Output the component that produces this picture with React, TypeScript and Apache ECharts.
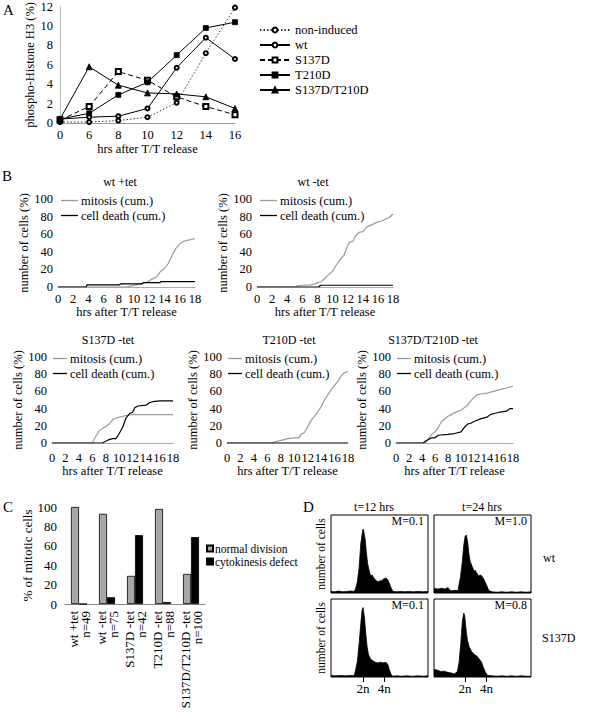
import React, { useEffect, useRef } from "react";
import * as echarts from "echarts";

const FONT = "'Liberation Serif', 'Times New Roman', serif";

// ---------- Panel A ----------
const hoursA = ["0", "6", "8", "10", "12", "14", "16"];
const nonInduced = [0.1, 0.1, 0.25, 0.6, 2.1, 7.2, 11.9];
const wtA = [0.4, 0.6, 0.7, 1.5, 5.7, 8.8, 6.6];
const s137dA = [0.3, 1.7, 5.3, 4.4, 2.7, 1.7, 0.85];
const t210dA = [0.4, 1.0, 2.9, 4.2, 7.0, 9.8, 10.4];
const dblA = [0.4, 5.8, 3.9, 3.1, 3.0, 2.7, 1.5];

// ---------- Panel B ([hours, % cells]) ----------
const wtPlusMitosis = [[0, 0], [9, 0], [9.5, 1], [10, 2], [10.5, 3], [11, 4], [11.5, 5], [12, 7], [12.5, 9.5], [13, 12], [13.5, 18], [14, 21], [14.5, 27], [15, 36], [15.5, 44], [16, 49], [16.5, 52], [17, 53], [17.5, 54], [18, 55]];
const wtPlusDeath = [[0, 0], [3.7, 0], [3.8, 2.5], [8.1, 2.5], [8.2, 3.5], [11.1, 3.5], [11.2, 5], [13.4, 5], [13.5, 6], [18, 6]];
const wtMinusMitosis = [[0, 0], [5, 0], [5.3, 1], [6, 2], [7, 2.5], [7.5, 3], [8, 5], [8.5, 6], [9, 10], [9.5, 14], [10, 18], [10.5, 25], [11, 31], [11.5, 36], [12, 47], [12.3, 51], [12.7, 52], [13, 58], [13.5, 62], [14, 63], [14.5, 68], [15, 70], [15.5, 72], [16, 74], [16.5, 75], [17, 77], [17.5, 79], [18, 83]];
const wtMinusDeath = [[0, 0], [8.2, 0], [8.4, 2], [18, 2]];
const s137dMitosis = [[0, 0], [6, 0], [6.3, 5], [6.7, 10], [7, 14], [7.5, 17], [8, 19], [8.5, 22], [9, 27], [9.5, 29], [10, 30], [10.5, 31], [11, 32], [12, 33], [18, 33]];
const s137dDeath = [[0, 0], [7.5, 0], [8, 2], [8.5, 4], [9, 5], [9.5, 5], [10, 11], [10.5, 18], [11, 29], [11.5, 34], [12, 36], [12.3, 41], [12.8, 43], [14, 44], [14.5, 47], [15, 48], [16, 49], [18, 49]];
const t210dMitosis = [[0, 0], [6.5, 0], [7, 1], [7.5, 2], [8, 3], [8.5, 4], [9, 5], [10, 6], [10.7, 6], [11, 10], [11.5, 12], [12, 19], [12.5, 26], [13, 31], [13.5, 36], [14, 42], [14.5, 50], [15, 56], [15.5, 62], [16, 67], [16.5, 72], [17, 78], [17.5, 82], [18, 83]];
const t210dDeath = [[0, 0], [18, 0]];
const dblMitosis = [[0, 0], [4.5, 0], [5, 5], [5.5, 10], [6, 13], [6.5, 18], [7, 25], [7.5, 28], [8, 31], [8.5, 33], [9, 35], [9.5, 37], [10, 38], [10.5, 41], [11, 44], [11.5, 49], [12, 53], [12.5, 56], [13, 57], [14, 58], [15, 60], [16, 62], [17, 64], [18, 66]];
const dblDeath = [[0, 0], [4.2, 0], [4.5, 2], [5, 4], [5.5, 6], [6, 6], [6.5, 9], [8, 10], [9, 11], [10, 13], [10.5, 18], [11, 22], [11.5, 23], [12, 25], [13, 28], [14, 30], [14.5, 33], [15, 34], [16, 36], [17, 37], [17.5, 40], [18, 40]];

// ---------- Panel C ----------
const cCategories = ["wt +tet\nn=49", "wt -tet\nn=75", "S137D -tet\nn=42", "T210D -tet\nn=88", "S137D/T210D -tet\nn=100"];
const normalDivision = [100, 93, 29, 98, 31];
const cytokinesisDefect = [0, 7, 71, 2, 69];

// ---------- Panel D (DNA content, % of box width / height) ----------
const histWt12 = [[0, 2], [4, 1.5], [8, 2.5], [12, 1.5], [16, 2], [20, 2.5], [24, 2], [25.5, 6], [27.2, 14], [29, 33], [30.7, 63], [32.4, 78], [33.1, 82], [33.8, 79], [35.2, 69], [36.6, 50], [37.9, 37], [39.3, 29], [40.3, 24], [41.4, 22], [42.5, 23], [43.8, 20], [46.2, 16], [49, 14], [50.3, 16], [51.7, 15], [54.1, 18], [56.6, 19], [58.6, 17], [60.3, 12], [62.1, 6], [63.8, 2], [68, 1.5], [72, 2], [76, 1.5], [80, 2], [85, 1.5], [90, 2], [95, 1.5], [100, 2]];
const histWt24 = [[0, 6], [4, 5], [8, 6], [11, 5], [14.5, 7], [16, 4], [18, 3], [22, 3.5], [24.8, 3], [25.5, 9], [27.2, 20], [29, 38], [30.7, 61], [32.1, 73], [33.4, 74], [34.8, 64], [35.9, 51], [37.2, 41], [39.3, 34], [41.4, 28], [42.6, 29], [43.8, 26], [46.2, 22], [48.3, 23], [50.3, 20], [52.4, 15], [54.5, 9], [56.6, 3], [60, 1.5], [65, 1], [70, 1.5], [75, 1], [80, 1.5], [85, 1], [90, 1.5], [95, 1], [100, 1.5]];
const histS12 = [[0, 2], [5, 1.5], [10, 2], [15, 1.5], [20, 2], [24, 2], [25.5, 10], [27.2, 20], [29, 43], [30.7, 68], [32.1, 86], [33.1, 89], [34.5, 76], [35.9, 55], [37.2, 39], [38.6, 29], [40.7, 23], [42.8, 21], [45.5, 19], [48.3, 18], [51, 19], [53.8, 18], [56.6, 19], [58.6, 16], [60, 10], [61.7, 4], [63.4, 1], [68, 1.5], [72, 1], [78, 1.5], [84, 1], [90, 1.5], [95, 1], [100, 1.5]];
const histS24 = [[0, 10], [3, 9], [7, 7], [10, 7.5], [14, 6], [18, 5], [21, 4], [24.1, 7], [25.9, 19], [27.6, 43], [29.3, 72], [30.7, 82], [31.7, 78], [33.1, 60], [34.5, 47], [36.2, 39], [38.6, 33], [41.4, 29], [44.1, 27], [46.6, 23], [49, 19], [51, 12], [53.1, 6], [55.2, 2], [60, 1.5], [65, 1], [70, 1.5], [75, 1], [80, 1.5], [85, 1], [90, 1.5], [95, 1], [100, 1]];
const ticksD12 = [33, 55];
const ticksD24 = [32, 54];

const txt = (text: string, x: number, y: number, size: number, align = "left", vAlign = "middle") => ({
  type: "text",
  x,
  y,
  silent: true,
  style: {
    text,
    fontSize: size,
    fontFamily: FONT,
    fill: "#000",
    align,
    verticalAlign: vAlign,
    textAlign: align,
    textVerticalAlign: vAlign,
  },
});

const ts = (size: number) => ({ fontSize: size, color: "#000", fontFamily: FONT });

function buildOption() {
  const grid: any[] = [];
  const xAxis: any[] = [];
  const yAxis: any[] = [];
  const series: any[] = [];
  const legend: any[] = [];
  const graphic: any[] = [];

  // ----- A -----
  grid.push({ left: 60, top: 5, width: 175, height: 118 });
  xAxis.push({
    gridIndex: 0, type: "category", data: hoursA, boundaryGap: false,
    axisLine: { lineStyle: { color: "#999", width: 1 } }, axisTick: { show: false },
    axisLabel: { ...ts(12.5), margin: 5 },
    name: "hrs after T/T release", nameLocation: "middle", nameGap: 19,
    nameTextStyle: ts(12.5),
  });
  yAxis.push({
    gridIndex: 0, type: "value", min: 0, max: 12, interval: 2,
    axisLine: { show: true, lineStyle: { color: "#bbb" } }, axisTick: { show: false }, splitLine: { show: false },
    axisLabel: { ...ts(12.5), margin: 7 },
    name: "phospho-Histone H3 (%)", nameLocation: "middle", nameGap: 17,
    nameTextStyle: ts(12.5),
  });
  const aSeries = [
    { name: "non-induced", data: nonInduced, symbol: "emptyCircle", size: 4, type: [1.5, 2], color: "#333" },
    { name: "wt", data: wtA, symbol: "emptyCircle", size: 4, type: "solid", color: "#000" },
    { name: "S137D", data: s137dA, symbol: "emptyRect", size: 5, type: [5, 3], color: "#000" },
    { name: "T210D", data: t210dA, symbol: "rect", size: 5, type: "solid", color: "#000" },
    { name: "S137D/T210D", data: dblA, symbol: "triangle", size: 6, type: "solid", color: "#000" },
  ];
  aSeries.forEach((s) => {
    series.push({
      type: "line", name: s.name, xAxisIndex: 0, yAxisIndex: 0, data: s.data,
      symbol: s.symbol, symbolSize: s.size, showAllSymbol: true,
      lineStyle: { color: s.color, width: 1, type: s.type },
      itemStyle: { color: "#000", borderColor: "#000", borderWidth: 0.8 },
    });
  });
  legend.push({
    data: aSeries.map((s) => s.name), orient: "vertical", left: 259, top: 23.5, padding: 0,
    itemWidth: 30, itemHeight: 6, itemGap: 2, selectedMode: false,
    textStyle: ts(12.5),
  });

  // ----- B -----
  const bPanels = [
    { left: 58, top: 199, width: 137, height: 88, m: wtPlusMitosis, d: wtPlusDeath, lw: 17, nameGap: 21, labelMargin: 5, xNameGap: 17 },
    { left: 257, top: 199, width: 136, height: 88, m: wtMinusMitosis, d: wtMinusDeath, lw: 17, nameGap: 17, labelMargin: 5, xNameGap: 17 },
    { left: 52, top: 357, width: 121, height: 86, m: s137dMitosis, d: s137dDeath, lw: 14, nameGap: 18, labelMargin: 8, xNameGap: 19 },
    { left: 227, top: 357, width: 121, height: 86, m: t210dMitosis, d: t210dDeath, lw: 14, nameGap: 20, labelMargin: 8, xNameGap: 19 },
    { left: 396, top: 357, width: 117, height: 86, m: dblMitosis, d: dblDeath, lw: 14, nameGap: 17, labelMargin: 8, xNameGap: 19 },
  ];
  bPanels.forEach((p, i) => {
    const gi = grid.length;
    grid.push({ left: p.left, top: p.top, width: p.width, height: p.height });
    xAxis.push({
      gridIndex: gi, type: "value", min: 0, max: 18, interval: 2,
      axisLine: { show: true, lineStyle: { color: "#aaa" } }, axisTick: { show: false }, splitLine: { show: false },
      axisLabel: { ...ts(12.5), margin: p.labelMargin },
      name: "hrs after T/T release", nameLocation: "middle", nameGap: p.xNameGap,
      nameTextStyle: ts(12.5),
    });
    yAxis.push({
      gridIndex: gi, type: "value", min: 0, max: 100, interval: 20,
      axisLine: { show: false }, axisTick: { show: false }, splitLine: { show: false },
      axisLabel: { ...ts(12.5), margin: 5 },
      name: "number of cells (%)", nameLocation: "middle", nameGap: p.nameGap,
      nameTextStyle: ts(12.5),
    });
    series.push({
      type: "line", name: "mitosis (cum.)", xAxisIndex: gi, yAxisIndex: gi, data: p.m,
      symbol: "none", lineStyle: { color: "#9a9a9a", width: 1.2 }, itemStyle: { color: "#9a9a9a" }, z: 2,
    });
    series.push({
      type: "line", name: "cell death (cum.)", xAxisIndex: gi, yAxisIndex: gi, data: p.d,
      symbol: "none", lineStyle: { color: "#000", width: 1.2 }, itemStyle: { color: "#000" }, z: 3,
    });
    legend.push({
      data: ["mitosis (cum.)", "cell death (cum.)"], orient: "vertical",
      left: p.left + (i < 2 ? 3 : 1), top: p.top - 5, padding: 0,
      icon: "rect", itemWidth: p.lw, itemHeight: 1.3, itemGap: 2, selectedMode: false,
      textStyle: { ...ts(12.5), padding: [0, 0, 0, -2] },
    });
  });

  // ----- C -----
  const gc = grid.length;
  grid.push({ left: 65, top: 507, width: 140, height: 97 });
  xAxis.push({
    gridIndex: gc, type: "category", data: cCategories,
    axisLine: { show: true, lineStyle: { color: "#888" } }, axisTick: { show: false },
    axisLabel: { ...ts(13), rotate: 90, interval: 0, lineHeight: 12, margin: 7 },
  });
  yAxis.push({
    gridIndex: gc, type: "value", min: 0, max: 100, interval: 20,
    axisLine: { show: false }, axisTick: { show: false }, splitLine: { show: false },
    axisLabel: { ...ts(13), margin: 8 },
    name: "% of mitotic cells", nameLocation: "middle", nameGap: 22,
    nameTextStyle: ts(13),
  });
  series.push({
    type: "bar", name: "normal division", xAxisIndex: gc, yAxisIndex: gc, data: normalDivision,
    barWidth: 8, barGap: "0%", itemStyle: { color: "#a6a6a6", borderColor: "#000", borderWidth: 0.8 },
  });
  series.push({
    type: "bar", name: "cytokinesis defect", xAxisIndex: gc, yAxisIndex: gc, data: cytokinesisDefect,
    barWidth: 8, barGap: "0%", itemStyle: { color: "#000", borderColor: "#000", borderWidth: 0.8 },
  });
  legend.push({
    data: ["normal division", "cytokinesis defect"], orient: "vertical", left: 206, top: 542.5, padding: 0,
    itemWidth: 6, itemHeight: 6, itemGap: 1, icon: "rect", selectedMode: false,
    textStyle: { ...ts(11.5), padding: [0, 0, 0, -3] },
  });

  // ----- D -----
  const dPanels = [
    { left: 331, top: 515, data: histWt12, ticks: ticksD12, bottom: false, yName: true },
    { left: 434, top: 515, data: histWt24, ticks: ticksD24, bottom: false, yName: false },
    { left: 331, top: 599, data: histS12, ticks: ticksD12, bottom: true, yName: true },
    { left: 434, top: 599, data: histS24, ticks: ticksD24, bottom: true, yName: false },
  ];
  dPanels.forEach((p) => {
    const gi = grid.length;
    grid.push({ left: p.left, top: p.top, width: 97, height: 78, show: true, borderColor: "#000", borderWidth: 1, backgroundColor: "transparent" });
    const tk = p.ticks;
    xAxis.push({
      gridIndex: gi, type: "value", min: 0, max: 100,
      axisLine: { show: false }, splitLine: { show: false },
      axisTick: { show: p.bottom, customValues: tk, length: 5, lineStyle: { color: "#000" } },
      axisLabel: {
        ...ts(13), show: p.bottom, customValues: tk, margin: 5,
        formatter: (v: number) => (Math.abs(v - tk[0]) < 0.5 ? "2n" : "4n"),
      },
    });
    yAxis.push({
      gridIndex: gi, type: "value", min: 0, max: 100,
      axisLine: { show: false }, axisTick: { show: false }, axisLabel: { show: false }, splitLine: { show: false },
      name: p.yName ? "number of cells" : "", nameLocation: "middle", nameGap: 4,
      nameTextStyle: ts(11.5),
    });
    series.push({
      type: "line", xAxisIndex: gi, yAxisIndex: gi, data: p.data, symbol: "none",
      lineStyle: { color: "#000", width: 0.8 }, areaStyle: { color: "#000", opacity: 1 },
    });
  });

  // ----- free texts -----
  graphic.push(txt("A", 3, 2, 15, "left", "top"));
  graphic.push(txt("B", 2, 168, 15, "left", "top"));
  graphic.push(txt("C", 3, 499, 15, "left", "top"));
  graphic.push(txt("D", 303, 499, 15, "left", "top"));
  graphic.push(txt("wt +tet", 120, 182, 12, "center"));
  graphic.push(txt("wt -tet", 313, 182, 12, "center"));
  graphic.push(txt("S137D -tet", 108, 340, 12, "center"));
  graphic.push(txt("T210D -tet", 289, 340, 12, "center"));
  graphic.push(txt("S137D/T210D -tet", 433, 340, 12, "center"));
  graphic.push(txt("t=12 hrs", 374, 507, 12, "center"));
  graphic.push(txt("t=24 hrs", 482, 507, 12, "center"));
  graphic.push(txt("M=0.1", 424, 521, 12, "right"));
  graphic.push(txt("M=1.0", 527, 521, 12, "right"));
  graphic.push(txt("M=0.1", 424, 605, 12, "right"));
  graphic.push(txt("M=0.8", 527, 605, 12, "right"));
  graphic.push(txt("wt", 543, 558, 12, "left"));
  graphic.push(txt("S137D", 542, 638, 12, "left"));

  return {
    animation: false,
    backgroundColor: "#fff",
    textStyle: { fontFamily: FONT, color: "#000" },
    grid, xAxis, yAxis, series, legend, graphic,
  };
}

export default function App() {
  const ref = useRef<HTMLDivElement>(null);
  useEffect(() => {
    if (!ref.current) return;
    const chart = echarts.init(ref.current, null, { renderer: "svg" });
    chart.setOption(buildOption() as any);
    return () => chart.dispose();
  }, []);
  return (
    <div
      ref={ref}
      style={{ position: "absolute", left: 0, top: 0, width: 592, height: 713, background: "#fff" }}
    />
  );
}
